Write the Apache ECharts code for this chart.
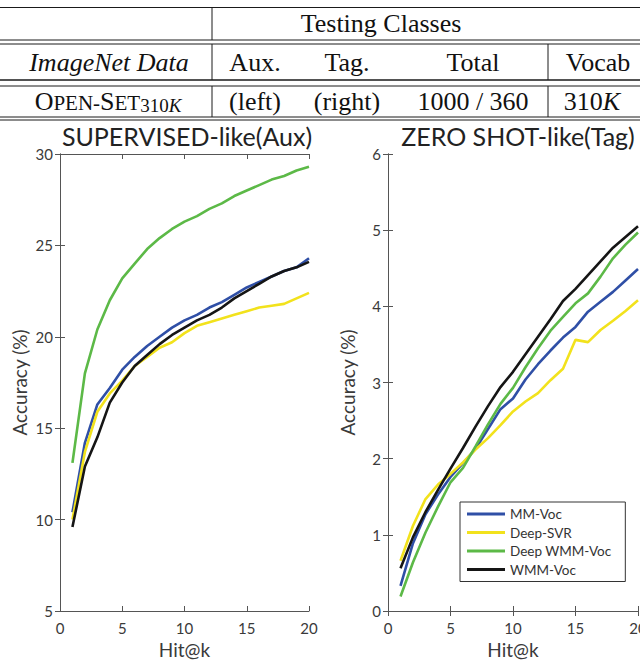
<!DOCTYPE html>
<html>
<head>
<meta charset="utf-8">
<title>Open-Set 310K accuracy</title>
<script src="https://cdn.jsdelivr.net/npm/echarts@6/dist/echarts.min.js"></script>
<style>
  html, body { margin: 0; padding: 0; background: #fff; }
  #chart { width: 640px; height: 660px; }
</style>
</head>
<body>
<div id="chart"></div>
<script>
// Hit@k positions shared by both panels
var hitK = [1, 2, 3, 4, 5, 6, 7, 8, 9, 10, 11, 12, 13, 14, 15, 16, 17, 18, 19, 20]

// SUPERVISED-like (Aux) accuracy, %
var mmVocAux = [10.4, 14.2, 16.3, 17.2, 18.2, 18.9, 19.5, 20.0, 20.5, 20.9, 21.2, 21.6, 21.9, 22.3, 22.7, 23.0, 23.3, 23.6, 23.8, 24.3]
var deepSvrAux = [10.0, 13.7, 15.9, 16.9, 17.6, 18.4, 18.9, 19.4, 19.7, 20.2, 20.6, 20.8, 21.0, 21.2, 21.4, 21.6, 21.7, 21.8, 22.1, 22.4]
var deepWmmAux = [13.1, 18.0, 20.4, 22.0, 23.2, 24.0, 24.8, 25.4, 25.9, 26.3, 26.6, 27.0, 27.3, 27.7, 28.0, 28.3, 28.6, 28.8, 29.1, 29.3]
var wmmVocAux = [9.6, 12.9, 14.5, 16.4, 17.5, 18.4, 19.0, 19.6, 20.1, 20.5, 20.9, 21.2, 21.6, 22.1, 22.5, 22.9, 23.3, 23.6, 23.8, 24.1]

// ZERO SHOT-like (Tag) accuracy, %
var mmVocTag = [0.33, 0.89, 1.27, 1.53, 1.76, 1.94, 2.13, 2.39, 2.65, 2.79, 3.04, 3.24, 3.42, 3.59, 3.73, 3.93, 4.06, 4.19, 4.34, 4.49]
var deepSvrTag = [0.66, 1.12, 1.47, 1.66, 1.80, 1.95, 2.12, 2.27, 2.44, 2.62, 2.75, 2.86, 3.03, 3.18, 3.56, 3.53, 3.69, 3.81, 3.94, 4.08]
var deepWmmTag = [0.19, 0.64, 1.03, 1.37, 1.69, 1.88, 2.16, 2.45, 2.72, 2.93, 3.20, 3.45, 3.68, 3.86, 4.04, 4.17, 4.39, 4.63, 4.81, 4.97]
var wmmVocTag = [0.56, 0.97, 1.30, 1.59, 1.87, 2.14, 2.42, 2.69, 2.94, 3.14, 3.37, 3.60, 3.83, 4.07, 4.23, 4.41, 4.59, 4.77, 4.91, 5.05]

var methods = ['MM-Voc', 'Deep-SVR', 'Deep WMM-Voc', 'WMM-Voc']
var colors = ['#2f4fa6', '#f2e21c', '#5cb947', '#151515']

var auxData = [mmVocAux, deepSvrAux, deepWmmAux, wmmVocAux]
var tagData = [mmVocTag, deepSvrTag, deepWmmTag, wmmVocTag]

// table text
var tableHeader = 'Testing Classes'
var tableCols = ['Aux.', 'Tag.', 'Total', 'Vocab']
var tableRow = ['(left)', '(right)', '1000 / 360']

var serif = '"Liberation Serif", "DejaVu Serif", serif'
var sans = 'Lato, "Open Sans", sans-serif'
var axisGray = '#555'
var textGray = '#3a3a3a'

function pairs(vals) {
  return hitK.map(function (k, i) { return [k, vals[i]] })
}

function hline(y, x1, x2, w) {
  return { type: 'line', shape: { x1: x1, y1: y, x2: x2, y2: y }, style: { stroke: '#1a1a1a', lineWidth: w || 1 }, silent: true }
}
function vline(x, y1, y2) {
  return { type: 'line', shape: { x1: x, y1: y1, x2: x, y2: y2 }, style: { stroke: '#1a1a1a', lineWidth: 1 }, silent: true }
}
function cell(text, x, y, extra) {
  var st = { text: text, x: x, y: y, align: 'center', verticalAlign: 'middle', fill: '#111', font: '26px ' + serif }
  if (extra) Object.keys(extra).forEach(function (k) { st[k] = extra[k] })
  return { type: 'text', style: st, silent: true }
}

var colX = [255, 347, 473, 598]

var graphic = [
  hline(7.5, 0, 640, 1.2),
  hline(40, 0, 640), hline(44, 0, 640),
  hline(80, 0, 640, 1.5), hline(86, 0, 640),
  hline(117, 0, 640), hline(120, 0, 640),
  vline(212, 7.5, 40), vline(212, 44, 80), vline(212, 86, 117),
  vline(548, 44, 80), vline(548, 86, 117),
  cell(tableHeader, 381, 23),
  cell('ImageNet Data', 109, 62, { font: 'italic 26px ' + serif }),
  cell(tableRow[0], colX[0], 101),
  cell(tableRow[1], colX[1], 101),
  cell(tableRow[2], colX[2], 101),
  {
    type: 'text', silent: true,
    style: {
      x: 108, y: 101, align: 'center', verticalAlign: 'middle',
      text: '{big|O}{sm|PEN-}{big|S}{sm|ET}{sub|310}{subi|K}',
      rich: {
        big: { font: '26px ' + serif, fill: '#111' },
        sm: { font: '21px ' + serif, fill: '#111', verticalAlign: 'bottom', padding: [0, 0, 1, 0] },
        sub: { font: '19px ' + serif, fill: '#111', verticalAlign: 'bottom', padding: [8, 0, 0, 0] },
        subi: { font: 'italic 19px ' + serif, fill: '#111', verticalAlign: 'bottom', padding: [8, 0, 0, 0] }
      }
    }
  },
  {
    type: 'text', silent: true,
    style: {
      x: colX[3] - 6, y: 101, align: 'center', verticalAlign: 'middle',
      text: '{n|310}{k|K}',
      rich: {
        n: { font: '26px ' + serif, fill: '#111' },
        k: { font: 'italic 26px ' + serif, fill: '#111' }
      }
    }
  }
]
tableCols.forEach(function (c, i) { graphic.push(cell(c, colX[i], 62)) })

function bottomAxis(gi) {
  return {
    type: 'value', gridIndex: gi, min: 0, max: 20, interval: 5,
    name: 'Hit@k', nameLocation: 'middle', nameGap: 29,
    nameTextStyle: { fontFamily: sans, fontSize: 19, color: textGray },
    axisLine: { show: true, lineStyle: { color: axisGray, width: 1 } },
    axisTick: { show: true, inside: true, length: 5, lineStyle: { color: axisGray } },
    axisLabel: { fontFamily: sans, fontSize: 15, color: textGray, margin: 9, hideOverlap: false },
    splitLine: { show: false }
  }
}
function topAxis(gi) {
  return {
    type: 'value', gridIndex: gi, position: 'top', min: 0, max: 20, interval: 5,
    axisLine: { show: true, lineStyle: { color: axisGray, width: 1 } },
    axisTick: { show: true, inside: true, length: 5, lineStyle: { color: axisGray } },
    axisLabel: { show: false }, splitLine: { show: false }
  }
}
function leftAxis(gi, min, max, step) {
  return {
    type: 'value', gridIndex: gi, min: min, max: max, interval: step,
    name: 'Accuracy (%)', nameLocation: 'middle', nameGap: 31,
    nameTextStyle: { fontFamily: sans, fontSize: 19, color: textGray },
    axisLine: { show: true, lineStyle: { color: axisGray, width: 1 } },
    axisTick: { show: true, inside: true, length: 5, lineStyle: { color: axisGray } },
    axisLabel: { fontFamily: sans, fontSize: 15, color: textGray, margin: 7 },
    splitLine: { show: false }
  }
}
function rightAxis(gi, min, max, step) {
  return {
    type: 'value', gridIndex: gi, position: 'right', min: min, max: max, interval: step,
    axisLine: { show: true, lineStyle: { color: axisGray, width: 1 } },
    axisTick: { show: true, inside: true, length: 5, lineStyle: { color: axisGray } },
    axisLabel: { show: false }, splitLine: { show: false }
  }
}

var series = []
methods.forEach(function (name, i) {
  series.push({
    name: name, type: 'line', xAxisIndex: 0, yAxisIndex: 0,
    data: pairs(auxData[i]), showSymbol: false, symbol: 'none',
    lineStyle: { color: colors[i], width: 2.6 }, itemStyle: { color: colors[i] },
    animation: false
  })
  series.push({
    name: name, type: 'line', xAxisIndex: 2, yAxisIndex: 2,
    data: pairs(tagData[i]), showSymbol: false, symbol: 'none',
    lineStyle: { color: colors[i], width: 2.6 }, itemStyle: { color: colors[i] },
    animation: false
  })
})

var chart = echarts.init(document.getElementById('chart'), null, { renderer: 'svg' })
chart.setOption({
  animation: false,
  backgroundColor: '#fff',
  title: [
    { text: 'SUPERVISED-like(Aux)', left: 182, top: 118, textAlign: 'center',
      textStyle: { fontFamily: sans, fontSize: 25, fontWeight: 'normal', color: '#222' } },
    { text: 'ZERO SHOT-like(Tag)', left: 513, top: 118, textAlign: 'center',
      textStyle: { fontFamily: sans, fontSize: 25, fontWeight: 'normal', color: '#222' } }
  ],
  grid: [
    { left: 60, top: 154, width: 249, height: 457, outerBoundsMode: 'none', containLabel: false },
    { left: 388, top: 154, width: 250, height: 457, outerBoundsMode: 'none', containLabel: false }
  ],
  xAxis: [bottomAxis(0), topAxis(0), bottomAxis(1), topAxis(1)],
  yAxis: [leftAxis(0, 5, 30, 5), rightAxis(0, 5, 30, 5), leftAxis(1, 0, 6, 1), rightAxis(1, 0, 6, 1)],
  legend: {
    data: methods, orient: 'vertical', left: 460, top: 502,
    icon: 'rect', itemWidth: 38, itemHeight: 3, itemGap: 4.5,
    backgroundColor: '#fff', borderColor: '#333', borderWidth: 1, borderRadius: 0,
    padding: [5, 14, 5, 7],
    textStyle: { fontFamily: sans, fontSize: 13.5, color: '#333' }
  },
  graphic: graphic,
  series: series
})
</script>
</body>
</html>
